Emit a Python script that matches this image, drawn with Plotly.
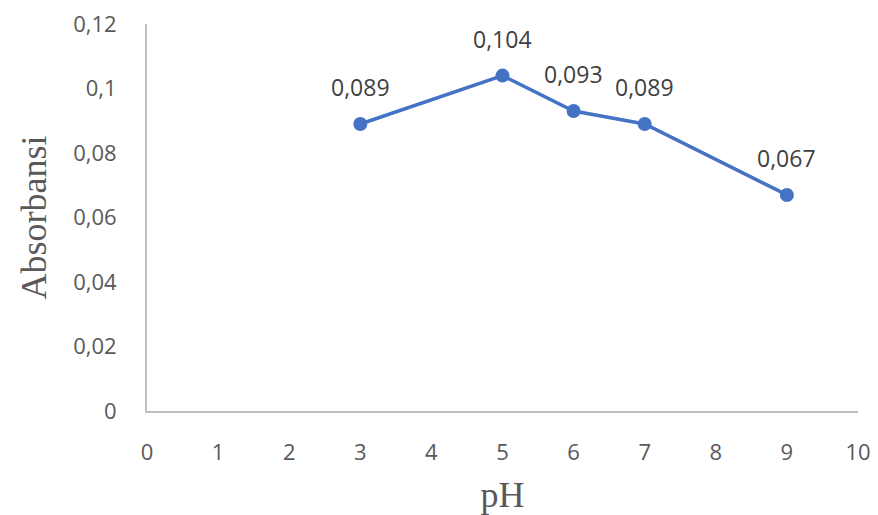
import plotly.graph_objects as go

ph = [3, 5, 6, 7, 9]
absorbansi = [0.089, 0.104, 0.093, 0.089, 0.067]
labels = ["0,089", "0,104", "0,093", "0,089", "0,067"]

x_ticks = list(range(0, 11))
y_ticks = [0, 0.02, 0.04, 0.06, 0.08, 0.1, 0.12]
y_ticktext = ["0", "0,02", "0,04", "0,06", "0,08", "0,1", "0,12"]

sans = "Open Sans, Liberation Sans, sans-serif"
serif = "Liberation Serif, Times New Roman, serif"

fig = go.Figure()
fig.add_trace(go.Scatter(
    x=ph, y=absorbansi, mode="lines+markers",
    line=dict(color="#4472C4", width=3.5),
    marker=dict(color="#4472C4", size=14),
    cliponaxis=False, showlegend=False, hoverinfo="x+y",
))

for xv, yv, t in zip(ph, absorbansi, labels):
    fig.add_annotation(x=xv, y=yv, text=t, showarrow=False, yshift=37,
                       font=dict(family=sans, size=23, color="#404040"))

fig.update_layout(
    width=870, height=507,
    margin=dict(l=139, r=20, t=16, b=104, autoexpand=False),
    paper_bgcolor="white", plot_bgcolor="white",
    separators=",.",
)
fig.update_xaxes(
    range=[0, 10], tickvals=x_ticks, ticktext=[str(v) for v in x_ticks],
    showgrid=False, zeroline=False, showline=True, linecolor="#BFBFBF", linewidth=2,
    ticks="", ticklabelstandoff=21, ticklabeloverflow="allow", automargin=False,
    tickfont=dict(family=sans, size=22, color="#595959"),
    title=dict(text="pH", font=dict(family=serif, size=36, color="#595959"), standoff=16),
)
fig.update_yaxes(
    range=[0, 0.12], tickvals=y_ticks, ticktext=y_ticktext,
    showgrid=False, zeroline=False, showline=True, linecolor="#BFBFBF", linewidth=2,
    ticks="", ticklabelstandoff=24, ticklabeloverflow="allow", automargin=False,
    tickfont=dict(family=sans, size=22, color="#595959"),
    title=dict(text="Absorbansi", font=dict(family=serif, size=36, color="#595959"), standoff=16),
)

fig.write_html("out.html")
